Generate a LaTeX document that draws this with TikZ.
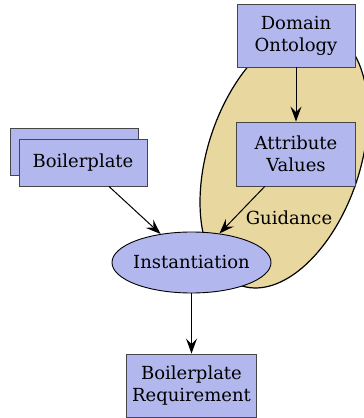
\documentclass[tikz,border=0pt]{standalone}
\usepackage{fontspec}
\setmainfont{DejaVu Serif}
\usetikzlibrary{arrows.meta,shapes.geometric}
\definecolor{boxblue}{RGB}{178,184,238}
\definecolor{guidetan}{RGB}{232,216,160}
\definecolor{edgegray}{RGB}{70,70,70}
\begin{document}
\begin{tikzpicture}[x=1pt,y=1pt,
  lbl/.style={font=\fontsize{18}{22}\selectfont, text=black},
  box/.style={lbl, draw=edgegray, fill=boxblue, line width=0.9pt, align=center, inner sep=0pt},
  ell/.style={lbl, ellipse, draw=black, fill=boxblue, line width=0.9pt, inner xsep=-3pt, inner ysep=0pt},
  arr/.style={draw=black, line width=1pt, -{Stealth[length=15pt,width=11pt,inset=5.5pt]}},
  guide/.style={draw=black, fill=guidetan, line width=1.2pt}]
\useasboundingbox (0,0) rectangle (364,418);
% Guidance region
\draw[guide] plot[variable=\t, domain=0:360, samples=120, smooth cycle]
  ({284+79*cos(\t)+28.5*sin(\t)},{260+130*sin(\t)});
\node[lbl] (guid) at (289,200) {Guidance};
% boxes
\node[box, minimum width=118pt, minimum height=63pt] (dom) at (296,382.5) {Domain\\Ontology};
\node[box, minimum width=119pt, minimum height=64pt] (att) at (296,264) {Attribute\\Values};
\node[box, minimum width=128pt, minimum height=47pt] (bpback) at (74,266.5) {};
\node[box, minimum width=128pt, minimum height=47pt] (bp) at (83,255.5) {Boilerplate};
\node[ell, minimum width=159pt, minimum height=61pt] (inst) at (191.5,155.5) {Instantiation};
\node[box, minimum width=130pt, minimum height=63pt] (req) at (191.5,32.5) {Boilerplate\\Requirement};
% connectors
\draw[arr] (dom) -- (att);
\draw[arr] (bp) -- (inst);
\draw[arr] (att) -- (inst);
\draw[arr] (inst) -- (req);
\end{tikzpicture}
\end{document}
